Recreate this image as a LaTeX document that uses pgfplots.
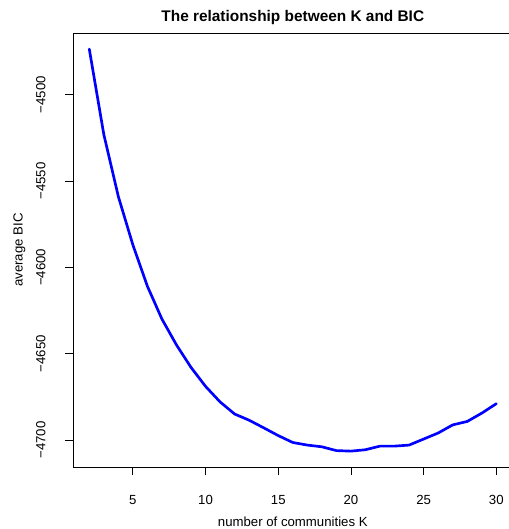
\documentclass[border=0pt]{standalone}
\usepackage{fontspec}
\setmainfont{Liberation Sans}
\usepackage{pgfplots}
\pgfplotsset{compat=1.18}
\begin{document}
\begin{tikzpicture}
\begin{axis}[
  name=ax,
  scale only axis,
  width=329.7pt, height=325.5pt,
  xmin=0.88, xmax=31.12,
  ymin=-4715.7, ymax=-4464.2,
  xtick={5,10,15,20,25,30},
  ytick={-4700,-4650,-4600,-4550,-4500},
  yticklabels={−4700,−4650,−4600,−4550,−4500},
  tick pos=left,
  tick align=outside,
  major tick length=6pt,
  tick style={black, line width=0.6pt},
  axis line style={black, line width=0.6pt},
  /pgf/number format/assume math mode=true,
  ticklabel style={font=\fontsize{9.9}{12}\selectfont},
  xticklabel style={anchor=base},
  xticklabel shift=21.75pt,
  yticklabel style={rotate=90, anchor=base},
  yticklabel shift=14.8pt,
  every axis title shift=0pt,
  title={The relationship between K and BIC},
  title style={at={(axis description cs:0.5,1.02535)}, anchor=base, font=\bfseries\fontsize{11.55}{14}\selectfont},
  xlabel={number of communities K},
  xlabel style={at={(axis description cs:0.5,-0.13825)}, anchor=base, font=\fontsize{9.9}{12}\selectfont},
  ylabel={average BIC},
  ylabel style={at={(axis description cs:-0.11435,0.5)}, rotate=0, anchor=base, font=\fontsize{9.9}{12}\selectfont},
]
\addplot[color={rgb,255:red,0;green,0;blue,255}, line width=2pt, line join=round, line cap=round] coordinates {
(2,-4473.5) (3,-4523) (4,-4559) (5,-4587) (6,-4611) (7,-4630) (8,-4645)
(9,-4658) (10,-4669) (11,-4678) (12,-4685) (13,-4688.6) (14,-4693)
(15,-4697.5) (16,-4701.5) (17,-4703) (18,-4704) (19,-4706.2) (20,-4706.5)
(21,-4705.7) (22,-4703.6) (23,-4703.6) (24,-4703) (25,-4699.5) (26,-4696)
(27,-4691.3) (28,-4689.3) (29,-4684.5) (30,-4679)
};
\end{axis}
\pgfresetboundingbox
\path ([xshift=-54.75pt,yshift=-46.5pt]ax.south west) rectangle ([xshift=-2.7pt,yshift=24.75pt]ax.north east);
\end{tikzpicture}
\end{document}
